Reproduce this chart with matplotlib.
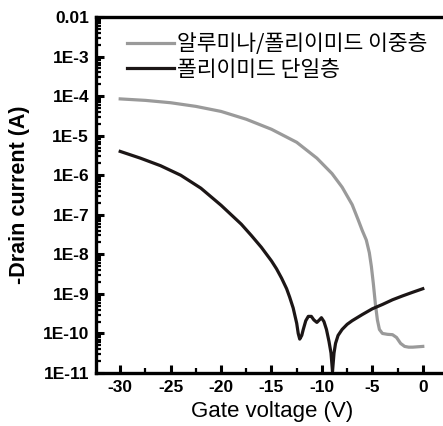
import matplotlib
matplotlib.use("Agg")
import matplotlib.pyplot as plt
from matplotlib.ticker import LogLocator, NullFormatter, MultipleLocator

plt.rcParams['font.family'] = ['Liberation Sans', 'Noto Sans CJK KR', 'DejaVu Sans']

# alumina / polyimide bilayer (gray)
vg_bilayer = [-30, -27.5, -25, -22.5, -20, -17.5, -15, -12.5, -10.5, -9, -8, -7,
              -6.4, -6.0, -5.6, -5.3, -5.1, -4.9, -4.7, -4.5, -4.3, -4.0, -3.5,
              -3.0, -2.6, -2.2, -1.8, -1.4, -1.0, -0.5, 0]
id_bilayer = [8.5e-5, 7.8e-5, 6.8e-5, 5.5e-5, 4.1e-5, 2.6e-5, 1.45e-5, 6.8e-6,
              2.7e-6, 1.1e-6, 5.0e-7, 1.8e-7, 7.4e-8, 4.0e-8, 2.3e-8, 1.1e-8,
              5.0e-9, 1.8e-9, 5.6e-10, 2.2e-10, 1.26e-10, 1.0e-10, 9.5e-11,
              9.3e-11, 7.9e-11, 5.6e-11, 4.7e-11, 4.5e-11, 4.5e-11, 4.6e-11, 4.7e-11]

# polyimide single layer (black)
vg_single = [-30, -28, -26, -24, -22, -20, -18, -17, -16, -15, -14.5, -14, -13.5,
             -13.2, -12.85, -12.5, -12.35, -12.2, -12.0, -11.85, -11.6,
             -11.35, -11.05, -10.8, -10.5, -10.25, -10.05, -9.8, -9.55, -9.3,
             -9.1, -8.95, -8.8, -8.65, -8.4, -8.0, -7.5, -7.0, -6.0, -5.0, -4.0,
             -3.0, -2.0, -1.0, 0]
id_single = [4.0e-6, 2.7e-6, 1.74e-6, 1.0e-6, 4.7e-7, 1.74e-7, 5.8e-8, 3.0e-8,
             1.5e-8, 6.8e-9, 4.3e-9, 2.5e-9, 1.35e-9, 8.3e-10, 4.4e-10, 1.8e-10,
             1.0e-10, 7.2e-11, 8.9e-11, 1.26e-10, 2.1e-10, 2.7e-10, 2.7e-10,
             2.2e-10, 1.9e-10, 2.2e-10, 2.5e-10, 2.0e-10, 1.26e-10, 6.3e-11,
             3.2e-11, 1.1e-11, 3.2e-11, 5.6e-11, 8.9e-11, 1.26e-10, 1.7e-10,
             2.1e-10, 3.0e-10, 4.2e-10, 5.4e-10, 7.1e-10, 8.9e-10, 1.1e-9, 1.35e-9]

labels = ['알루미나/폴리이미드 이중층', '폴리이미드 단일층']
y_ticks = [1e-2, 1e-3, 1e-4, 1e-5, 1e-6, 1e-7, 1e-8, 1e-9, 1e-10, 1e-11]
y_ticklabels = ['0.01', '1E-3', '1E-4', '1E-5', '1E-6', '1E-7', '1E-8', '1E-9',
                '1E-10', '1E-11']
x_ticks = [-30, -25, -20, -15, -10, -5, 0]

fig = plt.figure(figsize=(4.43, 4.26), dpi=100)
ax = fig.add_axes([96 / 443, 53 / 426, 353 / 443, 356 / 426])

ax.plot(vg_bilayer, id_bilayer, color='#9a9a9a', lw=2.3, label=labels[0])
ax.plot(vg_single, id_single, color='#1c1616', lw=2.3, label=labels[1])

ax.set_yscale('log')
ax.set_xlim(-32.4, 2.6)
ax.set_ylim(1e-11, 1e-2)

ax.set_yticks(y_ticks)
ax.set_yticklabels(y_ticklabels)
ax.yaxis.set_minor_locator(LogLocator(base=10, subs=range(2, 10), numticks=20))
ax.yaxis.set_minor_formatter(NullFormatter())
ax.set_xticks(x_ticks)
ax.set_xticklabels([str(v) for v in x_ticks])
ax.xaxis.set_minor_locator(MultipleLocator(2.5))

ax.tick_params(which='major', direction='in', length=6, width=2.2,
               labelsize=12.5, pad=5)
ax.tick_params(which='minor', direction='in', length=3.5, width=1.6)
ax.tick_params(axis='x', which='both', top=False)
ax.tick_params(axis='y', which='both', right=False)
for lab in ax.get_xticklabels() + ax.get_yticklabels():
    lab.set_fontweight('bold')

for s in ax.spines.values():
    s.set_linewidth(2.4)

ax.set_xlabel('Gate voltage (V)', fontsize=16, labelpad=4)
ax.set_ylabel('-Drain current (A)', fontsize=15.5, fontweight='bold', labelpad=9)

ax.legend(loc='upper left', bbox_to_anchor=(0.05, 0.99), frameon=False,
          handlelength=2.2, handletextpad=0.15, labelspacing=0.15,
          borderaxespad=0.2, prop={'family': ['Noto Sans CJK KR', 'DejaVu Sans'], 'size': 15.5})

fig.savefig('out.png', dpi=100)
